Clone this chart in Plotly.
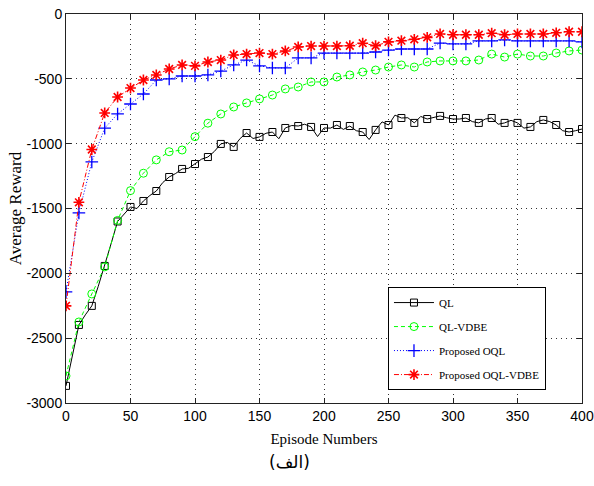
import plotly.graph_objects as go

# ---------------- data ----------------
episodes_10 = list(range(0, 401, 10))
episodes_5 = list(range(0, 401, 5))

ql = [-2868, -2630, -2398, -2320, -2251, -2100, -1943, -1770, -1600, -1540,
      -1488, -1500, -1442, -1400, -1365, -1300, -1257, -1230, -1195, -1190,
      -1157, -1120, -1103, -1060, -1002, -990, -1025, -960, -918, -960,
      -948, -920, -910, -962, -879, -860, -864, -850, -871, -945,
      -879, -880, -856, -890, -864, -900, -910, -968, -894, -832,
      -856, -780, -802, -800, -840, -790, -810, -800, -786, -800,
      -810, -810, -802, -830, -840, -810, -802, -850, -840, -820,
      -840, -880, -871, -830, -817, -830, -856, -900, -910, -900,
      -887]

ql_vdbe = [-2791, -2375, -2159, -1950, -1592, -1362, -1228, -1125, -1062, -1049,
           -946, -842, -771, -717, -686, -655, -625, -578, -563, -524,
           -524, -486, -470, -447, -432, -409, -393, -409, -370, -362,
           -362, -362, -355, -309, -332, -309, -324, -324, -301, -285,
           -278]

oql = [-2143, -1534, -1141, -880, -771, -694, -617, -509, -501, -478,
       -478, -470, -440, -393, -355, -400, -416, -416, -339, -339,
       -301, -301, -301, -301, -293, -278, -270, -270, -270, -224,
       -231, -231, -208, -208, -200, -208, -208, -208, -208, -208,
       -215]

oql_vdbe = [-2251, -1452, -1045, -763, -640, -571, -509, -470, -424, -393,
            -400, -370, -355, -316, -309, -301, -309, -285, -254, -247,
            -247, -247, -245, -225, -245, -215, -206, -195, -180, -154,
            -160, -160, -160, -148, -160, -154, -154, -154, -145, -137,
            -137]

series_names = ["QL", "QL-VDBE", "Proposed OQL", "Proposed OQL-VDBE"]

x_ticks = [0, 50, 100, 150, 200, 250, 300, 350, 400]
y_ticks = [0, -500, -1000, -1500, -2000, -2500, -3000]
y_tick_text = ["0", "-500", "-1000", "-1500", "-2000", "-2500", "-3000"]

# ---------------- figure ----------------
fig = go.Figure()

ql_marker_colors = ["black" if e % 10 == 0 else "rgba(0,0,0,0)" for e in episodes_5]

fig.add_trace(go.Scatter(
    x=episodes_5, y=ql, name=series_names[0], mode="lines+markers",
    legendgroup="a",
    line=dict(color="black", width=1),
    marker=dict(symbol="square-open", size=7, color=ql_marker_colors,
                line=dict(width=1)),
))
fig.add_trace(go.Scatter(
    x=episodes_10, y=ql_vdbe, name=series_names[1], mode="lines+markers",
    legendgroup="b",
    line=dict(color="#00ff00", width=1, dash="4px,3px"),
    marker=dict(symbol="circle-open", size=8, color="#00ff00",
                line=dict(width=1, color="#00ff00")),
))
fig.add_trace(go.Scatter(
    x=episodes_10, y=oql, name=series_names[2], mode="lines+markers",
    legendgroup="c",
    line=dict(color="#0000ff", width=1, dash="1px,2px"),
    marker=dict(symbol="cross-thin-open", size=9, color="#0000ff",
                line=dict(width=1.3, color="#0000ff")),
))
fig.add_trace(go.Scatter(
    x=episodes_10, y=oql_vdbe, name=series_names[3], mode="lines+markers",
    legendgroup="d",
    line=dict(color="#ff0000", width=1, dash="5px,2px,1px,2px"),
    marker=dict(symbol="asterisk-open", size=9, color="#ff0000",
                line=dict(width=1.6, color="#ff0000")),
))

axis_common = dict(
    showline=True, linecolor="#222222", linewidth=1, mirror="ticks",
    ticks="inside", ticklen=5, tickcolor="#222222",
    showgrid=True, gridcolor="#333333", gridwidth=1, griddash="1px,4px",
    zeroline=False, automargin=False,
    tickfont=dict(family="Liberation Sans Narrow, Liberation Sans, Arial", size=14, color="black"),
)

fig.update_xaxes(range=[0, 400], tickvals=x_ticks,
                 title=dict(text="Episode Numbers", standoff=10,
                            font=dict(family="Liberation Serif, Times New Roman", size=15, color="black")),
                 **axis_common)
fig.update_yaxes(range=[-3000, 0], tickvals=y_ticks, ticktext=y_tick_text,
                 title=dict(text="Average Reward", standoff=0,
                            font=dict(family="Liberation Serif, Times New Roman", size=17, color="black")),
                 **axis_common)

fig.add_annotation(text="(الف)", xref="paper", yref="paper", x=0.434, y=-0.152,
                   showarrow=False, xanchor="center", yanchor="middle",
                   font=dict(family="DejaVu Sans, Noto Sans", size=17, color="black"))

fig.update_layout(
    width=594, height=486,
    margin=dict(l=66, r=12, t=14, b=83, autoexpand=False),
    paper_bgcolor="white", plot_bgcolor="white",
    legend=dict(x=0.624, y=0.298, xanchor="left", yanchor="top",
                bgcolor="white", bordercolor="black", borderwidth=1,
                traceorder="grouped", tracegroupgap=5, itemwidth=40,
                font=dict(family="Liberation Serif, Times New Roman", size=11, color="black")),
    showlegend=True,
)

# remove the default 8px page margin so the figure fills the window exactly
fig.write_html("out.html", config={"displayModeBar": False},
               post_script="document.body.style.margin='0';")
